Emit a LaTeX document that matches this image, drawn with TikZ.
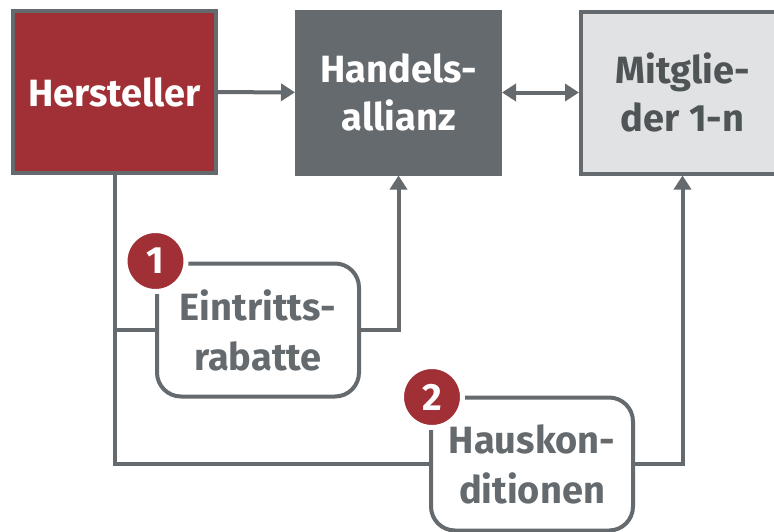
\documentclass[tikz,border=0pt]{standalone}
\usepackage{fontspec}
\setmainfont{Fira Sans}
\usetikzlibrary{positioning, arrows.meta}
\definecolor{BrandRed}{HTML}{A03035}
\definecolor{SlateGray}{HTML}{646A6E}
\definecolor{DarkText}{HTML}{4F5457}
\definecolor{PaleGray}{HTML}{E1E2E3}

\tikzset{
    block/.style={draw=SlateGray, line width=4pt, minimum width=203pt,
        minimum height=162pt, align=center,
        font=\bfseries\fontsize{38}{48}\selectfont},
    termbox/.style={draw=SlateGray, fill=white, line width=4pt,
        rounded corners=24pt, minimum width=202pt, minimum height=133pt,
        align=center, text=SlateGray,
        font=\bfseries\fontsize{38}{50}\selectfont},
    badge/.style={circle, fill=BrandRed, draw=white, line width=5pt,
        minimum size=61pt, inner sep=0pt, text=white,
        font=\bfseries\fontsize{38}{38}\selectfont},
    link/.style={draw=SlateGray, line width=4pt},
    tip/.style={-{Triangle[length=14pt, width=17pt]}}
}

\begin{document}
\begin{tikzpicture}[x=1pt, y=-1pt]
\useasboundingbox (0,0) rectangle (774,531);

% top row
\node[block, fill=BrandRed, text=white] (herst) at (114.5,92) {Hersteller};
\node[block, fill=SlateGray, text=white] (handel) at (398.5,92.5) {Handels-\\allianz};
\node[block, fill=PaleGray, text=DarkText] (mitgl) at (682.5,92.5) {Mitglie-\\der 1-n};

% conditions
\node[termbox] (eintr) at (258,330) {Eintritts-\\rabatte};
\node[termbox] (hausk) at (532,464) {Hauskon-\\ditionen};

\draw[link, tip] (herst) -- (handel);
\draw[link, {Triangle[length=14pt, width=17pt]}-{Triangle[length=14pt, width=17pt]}]
    (handel) -- (mitgl);

\draw[link] (herst.south) |- (hausk.west);
\draw[link] (herst.south |- eintr.west) -- (eintr.west);
\draw[link, tip] (eintr.east) -| (handel.south);
\draw[link, tip] (hausk.east) -| (mitgl.south);

\node[badge] (b1) at (155.5,261) {1};
\node[badge] (b2) at (432,397) {2};
\end{tikzpicture}
\end{document}
